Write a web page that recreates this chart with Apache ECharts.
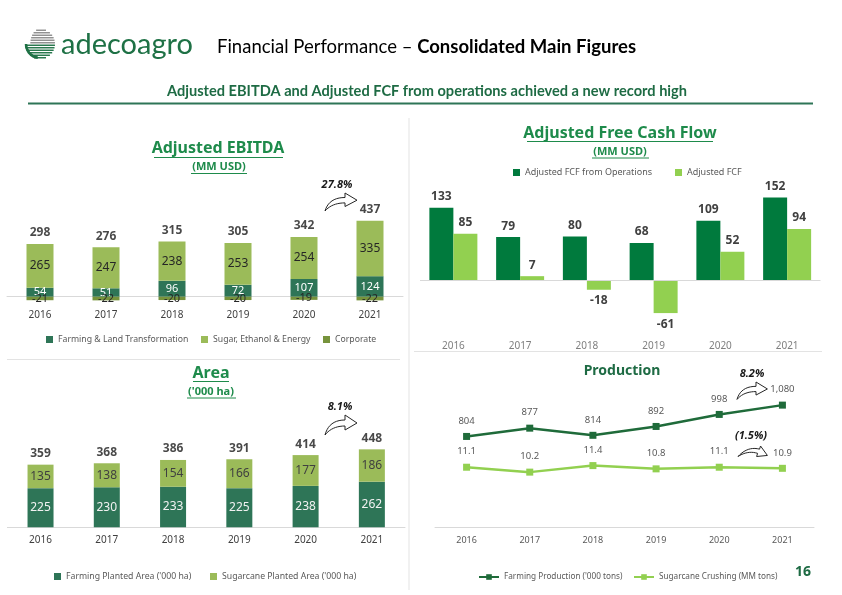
<!DOCTYPE html>
<html><head><meta charset="utf-8">
<script src="https://cdn.jsdelivr.net/npm/echarts@6/dist/echarts.min.js"></script>
<style>html,body{margin:0;padding:0;background:#fff}#c{width:842px;height:595px}</style>
</head><body><div id="c"></div>
<script>
const years = ['2016','2017','2018','2019','2020','2021'];
const ebitdaFarming = [54,51,96,72,107,124];
const ebitdaSugar = [265,247,238,253,254,335];
const ebitdaCorporate = [-21,-22,-20,-20,-19,-22];
const ebitdaTotal = [298,276,315,305,342,437];
const fcfOperations = [133,79,80,68,109,152];
const fcfAdjusted = [85,7,-18,-61,52,94];
const areaFarming = [225,230,233,225,238,262];
const areaSugarcane = [135,138,154,166,177,186];
const areaTotal = [359,368,386,391,414,448];
const prodFarming = [804,877,814,892,998,1080];
const prodSugarcane = [11.1,10.2,11.4,10.8,11.1,10.9];

const F = '"Noto Sans", sans-serif';
const HF = 'Lato, sans-serif';
const C = {
  farm:'#2E7557', sugar:'#9BBB59', corp:'#77933C',
  fcfOps:'#007A3D', fcf:'#92D050',
  lineFarm:'#1F6B3A', lineSugar:'#92D050',
  title:'#1E8B4B', dark:'#1E6B44', axis:'#d9d9d9', txt:'#595959'
};

const chart = echarts.init(document.getElementById('c'), null, {renderer:'canvas'});

function catAxis(grid, extra){
  return Object.assign({type:'category', gridIndex:grid, data:years,
    axisTick:{show:false},
    axisLine:{show:true, lineStyle:{color:C.axis, width:1}},
    axisLabel:{color:'#404040', fontSize:10, fontFamily:F}}, extra||{});
}
function valAxis(grid, min, max, extra){
  return Object.assign({type:'value', gridIndex:grid, min, max, show:false,
    splitLine:{show:false}}, extra||{});
}
function leg(name, left, yc, extra){
  return Object.assign({data:[name], left, top:yc-4, itemWidth:7, itemHeight:7, selectedMode:false,
    padding:0, textStyle:{color:C.txt, fontSize:8.7, fontFamily:F}, icon:'rect'}, extra||{});
}
const posSum = (a,b)=>a.map((v,i)=>v+b[i]);

const series = [
  {name:'Farming & Land Transformation', type:'bar', xAxisIndex:0, yAxisIndex:0, stack:'e', barWidth:27,
    data:ebitdaFarming, itemStyle:{color:C.farm},
    label:{show:true, position:'inside', color:'#ffffff', fontSize:11, fontFamily:F}},
  {name:'Sugar, Ethanol & Energy', type:'bar', xAxisIndex:0, yAxisIndex:0, stack:'e', barWidth:27,
    data:ebitdaSugar, itemStyle:{color:C.sugar},
    label:{show:true, position:'inside', color:'#262626', fontSize:12, fontFamily:F}},
  {name:'Corporate', type:'bar', xAxisIndex:0, yAxisIndex:0, stack:'e', barWidth:27,
    data:ebitdaCorporate, itemStyle:{color:C.corp},
    label:{show:true, position:'inside', color:'#262626', fontSize:11, fontFamily:F}},
  {name:'ebitdaTotals', type:'scatter', xAxisIndex:0, yAxisIndex:0, symbolSize:0, silent:true,
    data:posSum(ebitdaFarming, ebitdaSugar),
    label:{show:true, position:'top', distance:5, formatter:p=>String(ebitdaTotal[p.dataIndex]),
      color:'#1a1a1a', fontWeight:'bold', fontSize:12, fontFamily:F}},
  {name:'Adjusted FCF from Operations', type:'bar', xAxisIndex:1, yAxisIndex:1, barWidth:24, barGap:'0%',
    data:fcfOperations, itemStyle:{color:C.fcfOps},
    label:{show:true, position:'top', distance:5, color:'#404040', fontWeight:'bold', fontSize:12, fontFamily:F},
    markLine:{silent:true, symbol:'none', label:{show:false}, lineStyle:{color:C.axis, type:'solid', width:1},
      data:[{yAxis:0}]}},
  {name:'Adjusted FCF', type:'bar', xAxisIndex:1, yAxisIndex:1, barWidth:24, barGap:'0%',
    data:fcfAdjusted.map(v=>({value:v, label:{position: v<0?'bottom':'top'}})), itemStyle:{color:C.fcf},
    label:{show:true, distance:5, color:'#404040', fontWeight:'bold', fontSize:12, fontFamily:F}},
  {name:"Farming Planted Area ('000 ha)", type:'bar', xAxisIndex:2, yAxisIndex:2, stack:'a', barWidth:26,
    data:areaFarming, itemStyle:{color:C.farm},
    label:{show:true, position:'inside', color:'#f2f2f2', fontSize:12, fontFamily:F}},
  {name:"Sugarcane Planted Area ('000 ha)", type:'bar', xAxisIndex:2, yAxisIndex:2, stack:'a', barWidth:26,
    data:areaSugarcane, itemStyle:{color:C.sugar},
    label:{show:true, position:'inside', color:'#404040', fontSize:12, fontFamily:F}},
  {name:'areaTotals', type:'scatter', xAxisIndex:2, yAxisIndex:2, symbolSize:0, silent:true,
    data:posSum(areaFarming, areaSugarcane),
    label:{show:true, position:'top', distance:5, formatter:p=>String(areaTotal[p.dataIndex]),
      color:'#1a1a1a', fontWeight:'bold', fontSize:12, fontFamily:F}},
  {name:"Farming Production ('000 tons)", type:'line', xAxisIndex:3, yAxisIndex:3,
    data:prodFarming, symbol:'rect', symbolSize:7, color:C.lineFarm,
    lineStyle:{width:2.5, color:C.lineFarm}, itemStyle:{color:C.lineFarm},
    label:{show:true, position:'top', distance:7, color:C.txt, fontSize:9.5, fontFamily:F,
      formatter:p=>p.value.toLocaleString('en-US')}},
  {name:'Sugarcane Crushing (MM tons)', type:'line', xAxisIndex:3, yAxisIndex:4,
    data:prodSugarcane, symbol:'rect', symbolSize:7, color:C.lineSugar,
    lineStyle:{width:2.5, color:C.lineSugar}, itemStyle:{color:C.lineSugar},
    label:{show:true, position:'top', distance:7, color:C.txt, fontSize:9.5, fontFamily:F,
      formatter:p=>p.value.toFixed(1)}}
];

// ---------- decorations ----------
const graphics = [];
function txt(x, y, text, size, opts){
  opts = opts || {};
  const st = {text, align:opts.align||'center', verticalAlign:'middle',
    fontSize:size, fontWeight:opts.weight||'normal', fontStyle:opts.style||'normal',
    fontFamily:opts.family||F, fill:opts.color||'#000'};
  if (opts.rich) st.rich = opts.rich;
  graphics.push({type:'text', x, y, silent:true, z:10, style:st});
}
function line(x1,y1,x2,y2,color,w){
  graphics.push({type:'line', silent:true, shape:{x1,y1,x2,y2}, style:{stroke:color, lineWidth:w||1}});
}
function pathPoints(cmds, ox, oy, sx, sy){
  const pts = []; let cx=0, cy=0;
  cmds.forEach(c=>{
    if (c[0]==='M' || c[0]==='L'){ cx=c[1]; cy=c[2]; pts.push([cx,cy]); }
    else if (c[0]==='Q'){
      const [ , qx, qy, ex, ey] = c;
      for(let t=0.1;t<=1.0001;t+=0.1){
        const x=(1-t)*(1-t)*cx+2*(1-t)*t*qx+t*t*ex;
        const y=(1-t)*(1-t)*cy+2*(1-t)*t*qy+t*t*ey;
        pts.push([x,y]);
      }
      cx=ex; cy=ey;
    }
  });
  return pts.map(p=>[ox+p[0]*sx, oy+p[1]*sy]);
}
const arrowUp = [['M',0,20],['Q',4,5,20,5],['L',20,0],['L',32,8],['L',20,15],['L',20,11],['Q',7,11,0,20]];
const arrowDown = [['M',0,10],['Q',10,0,22,3],['L',23,0],['L',30,9],['L',19,10],['L',20,7],['Q',10,4,0,10]];
function arrow(x, y, sx, sy, cmds){
  graphics.push({type:'polygon', silent:true, z:10,
    shape:{points:pathPoints(cmds, x, y, sx, sy)},
    style:{fill:'#ffffff', stroke:'#262626', lineWidth:1}});
}

// logo
(function(){
  const cx=40, cy=44, r=15;
  for(let i=0;i<12;i++){
    const y = cy - r + 1.25 + i*2.5;
    const dy = y - cy;
    const hw = Math.sqrt(Math.max(0, r*r - dy*dy));
    const green = y > cy + 1;
    line(cx - hw + (green?0:hw*0.35), y, cx + hw, y, green ? '#1E7145' : '#8c8c8c', 1.4);
  }
  graphics.push({type:'arc', silent:true, shape:{cx, cy, r:r-1, startAngle:Math.PI*0.55, endAngle:Math.PI*1.0},
    style:{stroke:'#1E7145', lineWidth:2.5, fill:null}});
})();
txt(61, 45, 'adecoagro', 29, {align:'left', family:HF, color:'#1E7145'});
txt(217, 47, '{n|Financial Performance – }{b|Consolidated Main Figures}', 18.5, {align:'left', family:HF,
  rich:{n:{fontSize:18.5, fontFamily:HF, fill:'#000'}, b:{fontSize:18.5, fontFamily:HF, fontWeight:'bold', fill:'#000'}}});
txt(427, 91, 'Adjusted EBITDA and Adjusted FCF from operations achieved a new record high', 14.6,
  {weight:'bold', family:HF, color:C.dark});
line(28, 103.5, 813, 103.5, '#2E7557', 2);

// separators
line(409, 118, 409, 590, '#e3e3e3', 1);
line(7, 359.5, 400, 359.5, '#e3e3e3', 1);
line(414, 351.5, 822, 351.5, '#e3e3e3', 1);

// panel titles
txt(218, 148, 'Adjusted EBITDA', 16, {weight:'bold', color:C.title});
line(154, 157.5, 283, 157.5, C.title, 1);
txt(219, 167, '(MM USD)', 11, {weight:'bold', color:C.title});
line(191, 173.5, 247, 173.5, C.title, 1);

txt(620, 133, 'Adjusted Free Cash Flow', 16, {weight:'bold', color:C.title});
line(527, 141.5, 713, 141.5, C.title, 1);
txt(620, 152, '(MM USD)', 11, {weight:'bold', color:C.title});
line(592, 158, 649, 158, C.title, 1);

txt(211, 373, 'Area', 16, {weight:'bold', color:C.title});
line(193, 381.5, 229, 381.5, C.title, 1);
txt(211, 392, "('000 ha)", 11, {weight:'bold', color:C.title});
line(187, 398, 236, 398, C.title, 1);

txt(622, 371, 'Production', 14, {weight:'bold', color:C.dark});
txt(803, 572, '16', 14, {weight:'bold', color:C.dark});

// growth annotations
txt(337, 184.5, '27.8%', 11, {weight:'bold', style:'italic', color:'#1a1a1a'});
arrow(325, 193, 1.0, 0.9, arrowUp);
txt(340, 407, '8.1%', 11, {weight:'bold', style:'italic', color:'#1a1a1a'});
arrow(325, 415, 1.0, 1.0, arrowUp);
txt(752, 373.5, '8.2%', 11, {weight:'bold', style:'italic', color:'#1a1a1a'});
arrow(737, 382, 0.95, 0.87, arrowUp);
txt(751, 436, '(1.5%)', 11, {weight:'bold', style:'italic', color:'#1a1a1a'});
arrow(738, 446, 0.98, 1.05, arrowDown);

const option = {
  animation:false,
  backgroundColor:'#ffffff',
  textStyle:{fontFamily:F},
  grid:[
    {left:7, right:439, top:213.9, bottom:293.3},
    {left:420, right:21.5, top:187.7, bottom:271.6},
    {left:7.4, right:437, top:440.3, bottom:67.7},
    {left:435, right:28, top:391.5, bottom:67.3}
  ],
  xAxis:[
    catAxis(0, {axisLine:{show:true, onZero:true, lineStyle:{color:C.axis}}, axisLabel:{color:'#404040', fontSize:10, fontFamily:F, margin:8}}),
    catAxis(1, {axisLine:{show:false, onZero:false}, axisLabel:{color:'#7f7f7f', fontSize:10, fontFamily:F, margin:18}}),
    catAxis(2, {axisLabel:{color:'#404040', fontSize:10, fontFamily:F, margin:8}}),
    catAxis(3, {axisLabel:{color:C.txt, fontSize:9, fontFamily:F, margin:8}})
  ],
  yAxis:[
    valAxis(0, -30, 500),
    valAxis(1, -80, 170),
    valAxis(2, 0, 500),
    valAxis(3, 0, 1200),
    valAxis(3, 0, 25)
  ],
  legend:[
    leg('Farming & Land Transformation', 46, 339),
    leg('Sugar, Ethanol & Energy', 201, 339),
    leg('Corporate', 323, 339),
    leg('Adjusted FCF from Operations', 513, 172, {textStyle:{color:C.txt, fontSize:9, fontFamily:F}}),
    leg('Adjusted FCF', 675, 172, {textStyle:{color:C.txt, fontSize:9, fontFamily:F}}),
    leg("Farming Planted Area ('000 ha)", 54, 576),
    leg("Sugarcane Planted Area ('000 ha)", 210, 576),
    leg("Farming Production ('000 tons)", 478, 577, {icon:undefined, itemWidth:20, itemHeight:7, itemGap:3,
      textStyle:{color:C.txt, fontSize:8.2, fontFamily:F}}),
    leg('Sugarcane Crushing (MM tons)', 633, 577, {icon:undefined, itemWidth:20, itemHeight:7,
      textStyle:{color:C.txt, fontSize:8.2, fontFamily:F}})
  ],
  series,
  graphic:graphics
};
chart.setOption(option);
</script>
</body></html>
